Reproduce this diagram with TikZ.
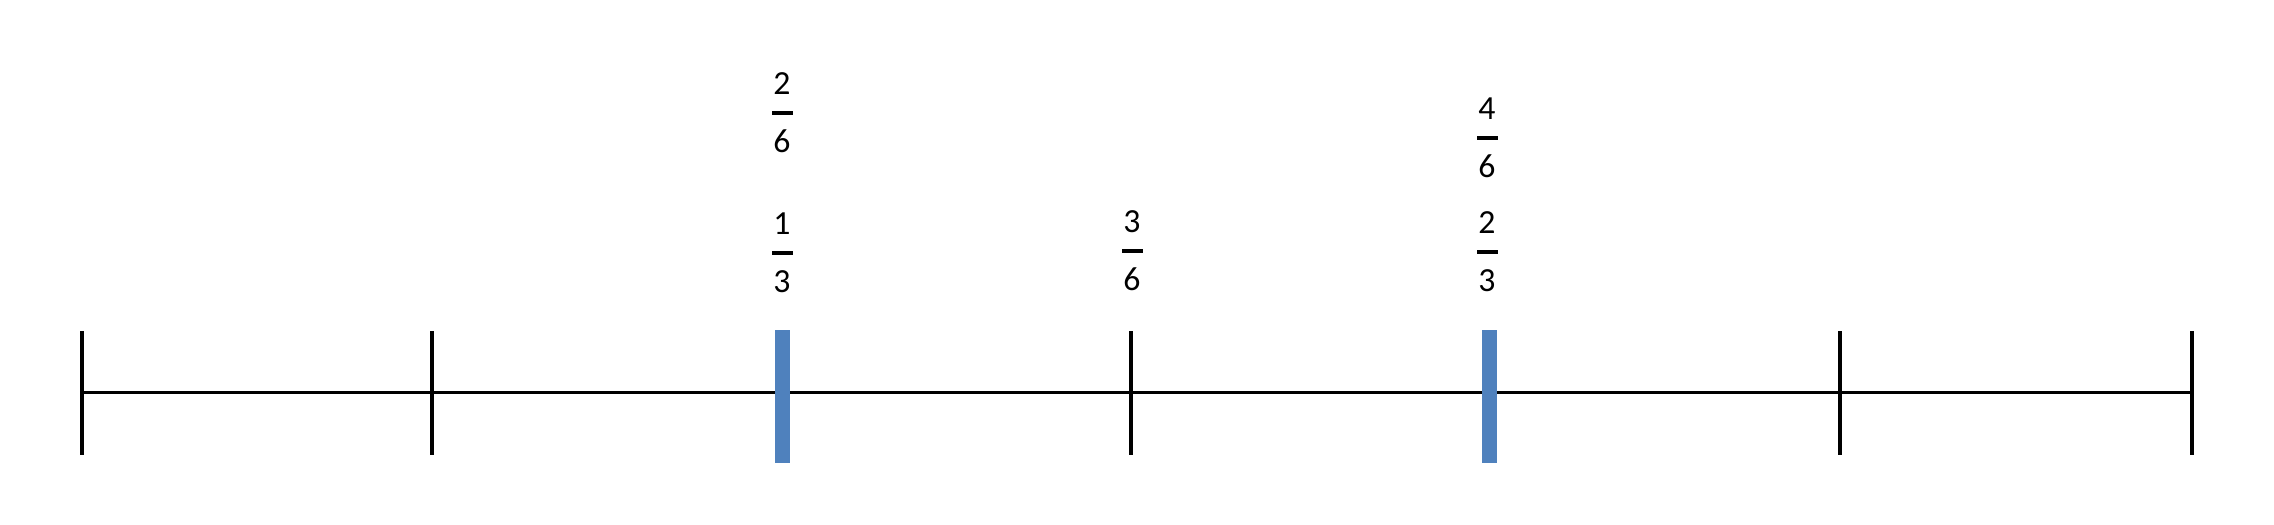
\documentclass[tikz,border=0pt]{standalone}
\usepackage{fontspec}
\setmainfont{Carlito}
\usepackage{tikz}
\usetikzlibrary{positioning}
\definecolor{barblue}{RGB}{79, 129, 189}

\begin{document}
\begin{tikzpicture}[
    x=0.1mm, y=-0.1mm,
    axis/.style={draw=black, line width=0.3mm},
    tick/.style={draw=black, line width=0.4mm},
    bluebar/.style={draw=barblue, line width=1.5mm},
    fbar/.style={rectangle, fill=black, minimum width=2.1mm, minimum height=0.4mm, inner sep=0pt},
    digit/.style={inner sep=0pt, text height=1.8mm, text depth=0pt, font=\fontsize{9.6}{11}\selectfont}
  ]
    \useasboundingbox (0,0) rectangle (2274,524);

    % number line with seven marks
    \foreach \x [count=\i from 0] in {82,432,782,1131,1489,1840,2192}
      \coordinate (t\i) at (\x,392);
    \draw[axis] (t0) -- (t6);
    \foreach \i in {0,1,3,5,6}
      \draw[tick] (t\i) ++(0,-61) -- ++(0,124);
    \draw[bluebar] (t2) ++(0,-62) -- ++(0,133);
    \draw[bluebar] (t4) ++(0,-62) -- ++(0,133);

    % fractions above the marks
    \node (f13) [fbar] at (782,253) {};
    \node (f13n) [digit, above=1.5mm of f13] {1};
    \node (f13d) [digit, below=1.8mm of f13] {3};
    \node (f26) [fbar] at (782,113) {};
    \node (f26n) [digit, above=1.5mm of f26] {2};
    \node (f26d) [digit, below=1.8mm of f26] {6};
    \node (f36) [fbar] at (1132,251) {};
    \node (f36n) [digit, above=1.5mm of f36] {3};
    \node (f36d) [digit, below=1.8mm of f36] {6};
    \node (f23) [fbar] at (1487,252) {};
    \node (f23n) [digit, above=1.5mm of f23] {2};
    \node (f23d) [digit, below=1.8mm of f23] {3};
    \node (f46) [fbar] at (1487,138) {};
    \node (f46n) [digit, above=1.5mm of f46] {4};
    \node (f46d) [digit, below=1.8mm of f46] {6};
\end{tikzpicture}
\end{document}
